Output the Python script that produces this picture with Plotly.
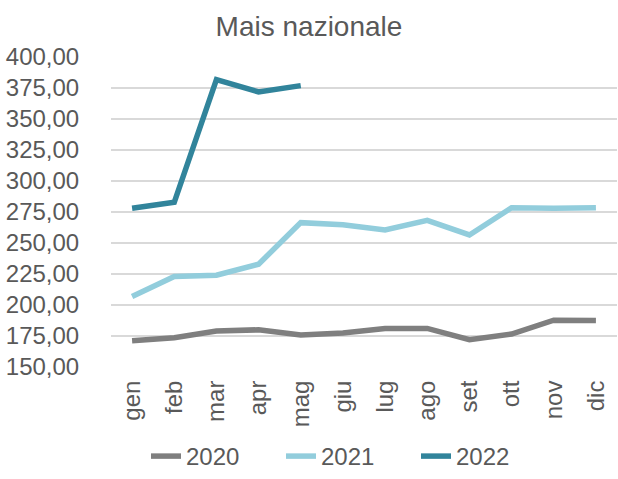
import plotly.graph_objects as go

mesi = ["gen", "feb", "mar", "apr", "mag", "giu", "lug", "ago", "set", "ott", "nov", "dic"]
prezzi_2020 = [171.2, 173.6, 179.0, 180.0, 175.8, 177.4, 181.1, 181.1, 172.0, 176.6, 187.8, 187.6]
prezzi_2021 = [206.9, 223.0, 224.0, 232.9, 266.4, 264.8, 260.5, 268.3, 256.5, 278.5, 278.0, 278.5]
prezzi_2022 = [278.0, 282.8, 381.8, 371.8, 376.9]
y_ticks = [150, 175, 200, 225, 250, 275, 300, 325, 350, 375, 400]

testo = "#595959"

fig = go.Figure()
for nome, valori, colore in [
    ("2020", prezzi_2020, "#7f7f7f"),
    ("2021", prezzi_2021, "#92cddc"),
    ("2022", prezzi_2022, "#31849b"),
]:
    fig.add_trace(go.Scatter(
        x=mesi[:len(valori)], y=valori, name=nome, mode="lines",
        line=dict(color=colore, width=5.5)
    ))

fig.update_layout(
    width=618, height=479,
    margin=dict(l=111, r=1, t=57, b=112, autoexpand=False),
    paper_bgcolor="white", plot_bgcolor="white",
    font=dict(family="Liberation Sans, Arial, sans-serif", size=24, color=testo),
    separators=",.",
    title=dict(text="Mais nazionale", x=0.5, xanchor="center",
               y=1 - 26 / 479, yanchor="middle", yref="container",
               font=dict(size=28, color=testo)),
    showlegend=True,
    legend=dict(orientation="h", x=146 / 618, xanchor="left", xref="container",
                y=0, yanchor="bottom", yref="container",
                font=dict(size=24, color=testo), entrywidth=90,
                tracegroupgap=0, valign="middle"),
    xaxis=dict(categoryorder="array", categoryarray=mesi, tickangle=-90,
               ticks="outside", ticklen=3, tickcolor="rgba(0,0,0,0)",
               showgrid=False, showline=False, zeroline=False,
               range=[-0.5, 11.5], automargin=False),
    yaxis=dict(range=[150, 400], tickvals=y_ticks, tickformat=".2f",
               showgrid=True, gridcolor="#d9d9d9", gridwidth=1.5,
               ticks="outside", ticklen=26, tickcolor="rgba(0,0,0,0)",
               zeroline=False, showline=False, automargin=False),
)

# il body html ha un margine di default di 8px
fig.write_html("out.html", config={"displayModeBar": False},
               post_script="document.body.style.margin='0';")
